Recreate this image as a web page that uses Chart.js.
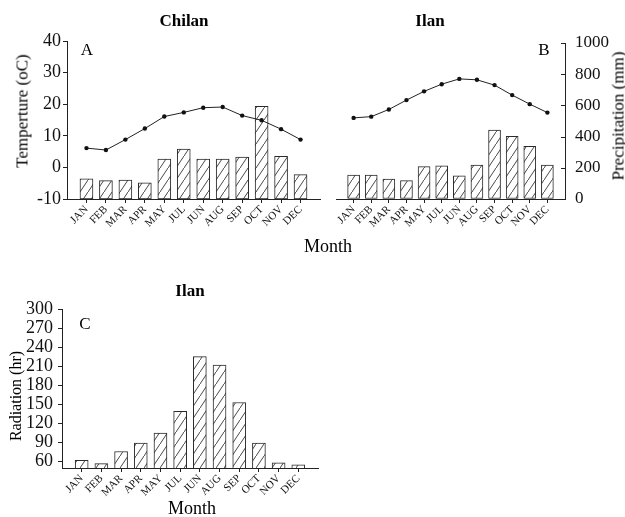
<!DOCTYPE html>
<html>
<head>
<meta charset="utf-8">
<script src="https://cdn.jsdelivr.net/npm/chart.js@4/dist/chart.umd.min.js"></script>
<style>
  html, body { margin: 0; padding: 0; background: #fff; }
  #wrap { position: relative; width: 625px; height: 517px; overflow: hidden; font-family: "Liberation Serif", "Times New Roman", serif; color: #000; }
  canvas { position: absolute; left: 0; top: 0; }
  .t { position: absolute; transform: translate(-50%, -50%); white-space: nowrap; line-height: 1; }
  .r { transform: translate(-50%, -50%) rotate(-90deg); }
  .b { font-weight: bold; }
</style>
</head>
<body>
<div id="wrap">
  <canvas id="cA" width="625" height="517"></canvas>
  <canvas id="cB" width="625" height="517"></canvas>
  <canvas id="cC" width="625" height="517"></canvas>
  <div class="t b" style="left:184px;top:20px;font-size:17px;">Chilan</div>
  <div class="t b" style="left:430px;top:20px;font-size:17px;">Ilan</div>
  <div class="t" style="left:87px;top:49px;font-size:17px;">A</div>
  <div class="t" style="left:544px;top:49px;font-size:17px;">B</div>
  <div class="t r" style="left:22px;top:111px;font-size:17px;">Temperture (oC)</div>
  <div class="t r" style="left:618px;top:116px;font-size:17px;">Precipitation (mm)</div>
  <div class="t" style="left:328px;top:246px;font-size:18px;">Month</div>
  <div class="t b" style="left:190px;top:290px;font-size:17px;">Ilan</div>
  <div class="t" style="left:85px;top:323px;font-size:17px;">C</div>
  <div class="t r" style="left:16px;top:396px;font-size:16px;">Radiation (hr)</div>
  <div class="t" style="left:192px;top:508px;font-size:18px;">Month</div>
</div>
<script>
// ---- data ----
const months = ['JAN','FEB','MAR','APR','MAY','JUL','JUN','AUG','SEP','OCT','NOV','DEC'];
const chilanTemp   = [6.1, 5.5, 8.8, 12.3, 16.1, 17.4, 18.9, 19.1, 16.4, 14.9, 12.1, 8.8];   // °C
const chilanPrecip = [128, 116, 120, 102, 252, 316, 252, 252, 266, 586, 270, 154];          // mm
const ilanTemp     = [16.0, 16.4, 18.7, 21.7, 24.5, 26.8, 28.5, 28.2, 26.5, 23.3, 20.4, 17.7]; // °C
const ilanPrecip   = [153, 153, 127, 118, 208, 213, 148, 217, 441, 402, 338, 217];          // mm
const ilanRadiation = [62, 57, 76, 89, 105, 139, 225, 212, 153, 89, 58, 55];                // hr
const tempTicks = [-10, 0, 10, 20, 30, 40];
const precipTicks = [0, 200, 400, 600, 800, 1000];
const radTicks = [60, 90, 120, 150, 180, 210, 240, 270, 300];

// ---- helpers ----
const FONT = '"Liberation Serif", "Times New Roman", serif';
function hatch() {
  const c = document.createElement('canvas');
  c.width = 8; c.height = 12;
  const g = c.getContext('2d');
  g.fillStyle = '#fff'; g.fillRect(0, 0, 8, 12);
  g.strokeStyle = '#333'; g.lineWidth = 0.9;
  g.beginPath(); g.moveTo(-1, 13.5); g.lineTo(9, -1.5); g.stroke();
  return g.createPattern(c, 'repeat');
}
const pts = arr => arr.map((v, i) => ({ x: i, y: v }));
function xScale(size) {
  return {
    type: 'linear', min: -1, max: 12, offset: false,
    afterBuildTicks: s => { s.ticks = months.map((m, i) => ({ value: i })); },
    afterFit: s => { s.height = size; },
    border: { display: true, color: '#222', width: 1 },
    grid: { display: true, drawOnChartArea: false, drawTicks: true, tickLength: 4, color: '#222', offset: false },
    ticks: {
      autoSkip: false, minRotation: 45, maxRotation: 45, padding: 0, color: '#111',
      font: { family: FONT, size: 11 },
      callback: v => months[v] ?? ''
    }
  };
}
function fixedTicks(list) { return s => { s.ticks = list.map(v => ({ value: v })); }; }
const plain = v => String(v);
const baseOpts = {
  responsive: false, animation: false, devicePixelRatio: 1,
  plugins: { legend: { display: false }, tooltip: { enabled: false }, title: { display: false } }
};
function barDs(data, axis, thick) {
  return { type: 'bar', data: pts(data), yAxisID: axis, backgroundColor: hatch(),
           borderColor: '#2a2a2a', borderWidth: 1, barThickness: thick, order: 1, borderSkipped: false };
}
function lineDs(data, axis) {
  return { type: 'line', data: pts(data), yAxisID: axis, borderColor: '#222', borderWidth: 1,
           pointRadius: 2.2, pointBackgroundColor: '#111', pointBorderWidth: 0, tension: 0, order: 0 };
}
const innerTicks = {
  id: 'innerTicks',
  afterDraw(chart) {
    const s = chart.scales.yP;
    const g = chart.ctx;
    g.save(); g.strokeStyle = '#222'; g.lineWidth = 1;
    s.ticks.forEach(t => {
      const y = Math.round(s.getPixelForValue(t.value)) + 0.5;
      g.beginPath(); g.moveTo(s.left - 4, y); g.lineTo(s.left, y); g.stroke();
    });
    g.restore();
  }
};

// ---- Panel A: Chilan ----
new Chart(document.getElementById('cA'), {
  data: { datasets: [lineDs(chilanTemp, 'yT'), barDs(chilanPrecip, 'yP', 13)] },
  options: Object.assign({}, baseOpts, {
    layout: { padding: { left: 0, right: 305, top: 41, bottom: 0 } },
    scales: {
      x: xScale(517 - 199),
      yT: {
        type: 'linear', position: 'left', min: -10, max: 40,
        afterBuildTicks: fixedTicks(tempTicks),
        afterFit: s => { s.width = 67; },
        border: { display: true, color: '#222', width: 1 },
        grid: { drawOnChartArea: false, tickLength: 4, color: '#222' },
        ticks: { autoSkip: false, padding: 2, color: '#111', font: { family: FONT, size: 18 }, callback: plain }
      },
      yP: { type: 'linear', position: 'right', min: 0, max: 1000, display: false }
    }
  })
});

// ---- Panel B: Ilan ----
new Chart(document.getElementById('cB'), {
  data: { datasets: [lineDs(ilanTemp, 'yT'), barDs(ilanPrecip, 'yP', 12)] },
  options: Object.assign({}, baseOpts, {
    layout: { padding: { left: 336, right: 0, top: 43, bottom: 0 } },
    scales: {
      x: xScale(517 - 199),
      yT: { type: 'linear', position: 'left', min: -10, max: 40, display: false },
      yP: {
        type: 'linear', position: 'right', min: 0, max: 1000,
        afterBuildTicks: fixedTicks(precipTicks),
        afterFit: s => { s.width = 60; },
        border: { display: true, color: '#222', width: 1 },
        grid: { drawOnChartArea: false, drawTicks: false },
        ticks: { autoSkip: false, padding: 10, color: '#111', font: { family: FONT, size: 17 }, callback: plain }
      }
    }
  }),
  plugins: [innerTicks]
});

// ---- Panel C: Ilan radiation ----
new Chart(document.getElementById('cC'), {
  data: { datasets: [barDs(ilanRadiation, 'yR', 13)] },
  options: Object.assign({}, baseOpts, {
    layout: { padding: { left: 0, right: 307, top: 309, bottom: 0 } },
    scales: {
      x: xScale(517 - 468),
      yR: {
        type: 'linear', position: 'left', min: 50, max: 300,
        afterBuildTicks: fixedTicks(radTicks),
        afterFit: s => { s.width = 62; },
        border: { display: true, color: '#222', width: 1 },
        grid: { drawOnChartArea: false, tickLength: 4, color: '#222' },
        ticks: { autoSkip: false, padding: 5, color: '#111', font: { family: FONT, size: 18 }, callback: plain }
      }
    }
  })
});
</script>
</body>
</html>
